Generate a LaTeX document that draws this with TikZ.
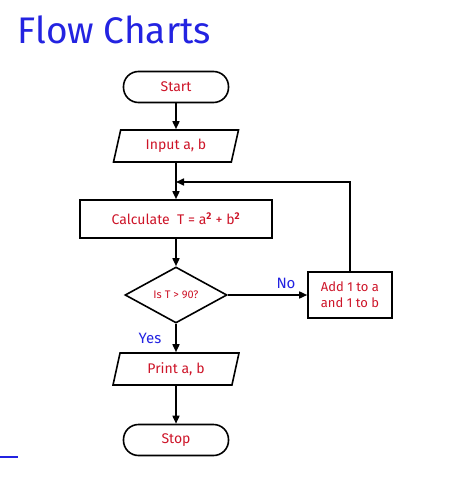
\documentclass[tikz,border=0pt]{standalone}
\usepackage{fontspec}
\setmainfont{Fira Sans}
\usetikzlibrary{shapes.geometric,arrows.meta}
\definecolor{tred}{RGB}{205,20,40}
\definecolor{tblue}{RGB}{35,35,225}
\begin{document}
\begin{tikzpicture}[x=1pt,y=-1pt,
  box/.style={draw,line width=1.6pt,text=tred,font=\fontsize{14}{16}\selectfont,inner sep=0pt},
  term/.style={box,rounded corners=15pt,minimum width=105pt,minimum height=31pt},
  io/.style={box,trapezium,trapezium left angle=62,trapezium right angle=118,minimum height=32pt,trapezium stretches body},
  arr/.style={line width=1.6pt,-{Triangle[length=8pt,width=7pt]}},
  lbl/.style={text=tblue,font=\fontsize{15}{17}\selectfont}]
\useasboundingbox (0,0) rectangle (474,487);
\node[text=tblue,font=\fontsize{37}{40}\selectfont,anchor=west] (title) at (14,30) {Flow Charts};
\node[term] (start) at (176,87) {Start};
\node[io,minimum width=125pt] (input) at (176,146) {Input a, b};
\coordinate (j) at (176,182);
\node[box,minimum width=192pt,minimum height=38pt] (calc) at (176,219) {Calculate\ \ T = a$^{\mathbf{2}}$ + b$^{\mathbf{2}}$};
\node[box,diamond,aspect=1.9,minimum width=102pt,minimum height=56pt,font=\fontsize{11}{13}\selectfont] (dec) at (176,295) {Is T > 90?};
\node[box,minimum width=84pt,minimum height=46pt,align=left,font=\fontsize{13}{16}\selectfont] (add) at (350,295) {Add 1 to a\\and 1 to b};
\node[io,minimum width=126pt] (print) at (176,369) {Print a, b};
\node[term] (stop) at (176,440) {Stop};
\node[lbl] (no) at (286,283) {No};
\node[lbl] (yes) at (150,338) {Yes};
\coordinate (c1) at (350,182);
\draw[arr] (start) -- (input);
\draw[line width=1.6pt] (input) -- (j);
\draw[arr] (j) -- (calc);
\draw[arr] (calc) -- (dec);
\draw[arr] (dec) -- (add);
\draw[arr] (add.north) -- (c1) -- (j);
\draw[arr] (dec) -- (print);
\draw[arr] (print) -- (stop);
\coordinate (b1) at (0,457); \coordinate (b2) at (18,457);
\draw[tblue,line width=1.5pt] (b1) -- (b2);
\end{tikzpicture}
\end{document}
